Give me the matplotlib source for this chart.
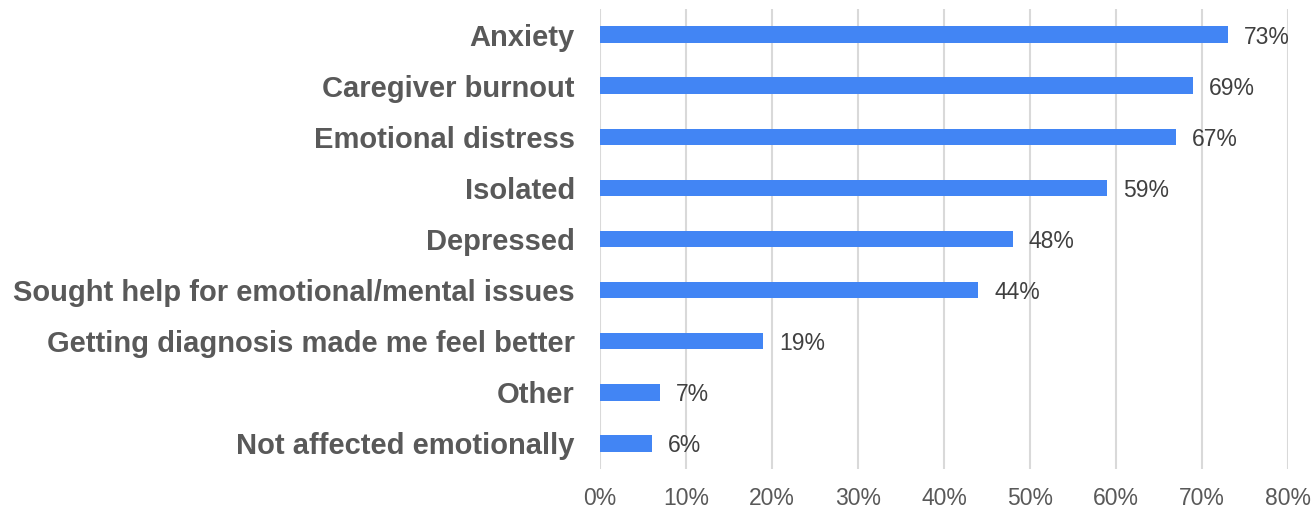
import matplotlib
matplotlib.use("Agg")
import matplotlib.pyplot as plt
from matplotlib.ticker import FuncFormatter

categories = [
    "Anxiety",
    "Caregiver burnout",
    "Emotional distress",
    "Isolated",
    "Depressed",
    "Sought help for emotional/mental issues",
    "Getting diagnosis made me feel better",
    "Other",
    "Not affected emotionally",
]
values = [73, 69, 67, 59, 48, 44, 19, 7, 6]
x_ticks = [0, 10, 20, 30, 40, 50, 60, 70, 80]

plt.rcParams["font.family"] = ["Liberation Sans", "DejaVu Sans"]

fig = plt.figure(figsize=(13.16, 5.08), dpi=100)
ax = fig.add_axes([600 / 1316, 1 - 469 / 508, 688 / 1316, 460 / 508])

ypos = list(range(len(categories)))
ax.barh(ypos, values, height=0.32, color="#4285F4", zorder=3)

for y, v in zip(ypos, values):
    ax.text(v + 1.85, y, f"{v}%", va="center_baseline", ha="left",
            fontsize=16.5, color="#404040")

ax.set_xlim(0, 80)
ax.set_ylim(len(categories) - 0.5, -0.5)
ax.set_xticks(x_ticks)
ax.xaxis.set_major_formatter(FuncFormatter(lambda v, p: f"{v:.0f}%"))
ax.set_yticks(ypos)
ax.set_yticklabels(categories, fontsize=21, fontweight="bold", color="#595959")
ax.tick_params(axis="x", labelsize=16.5, colors="#595959", length=0, pad=13)
ax.tick_params(axis="y", length=0, pad=18)

ax.grid(axis="x", color="#D9D9D9", linewidth=1.5, zorder=0)
for s in ax.spines.values():
    s.set_visible(False)

fig.savefig("out.png", dpi=100, facecolor="white")
